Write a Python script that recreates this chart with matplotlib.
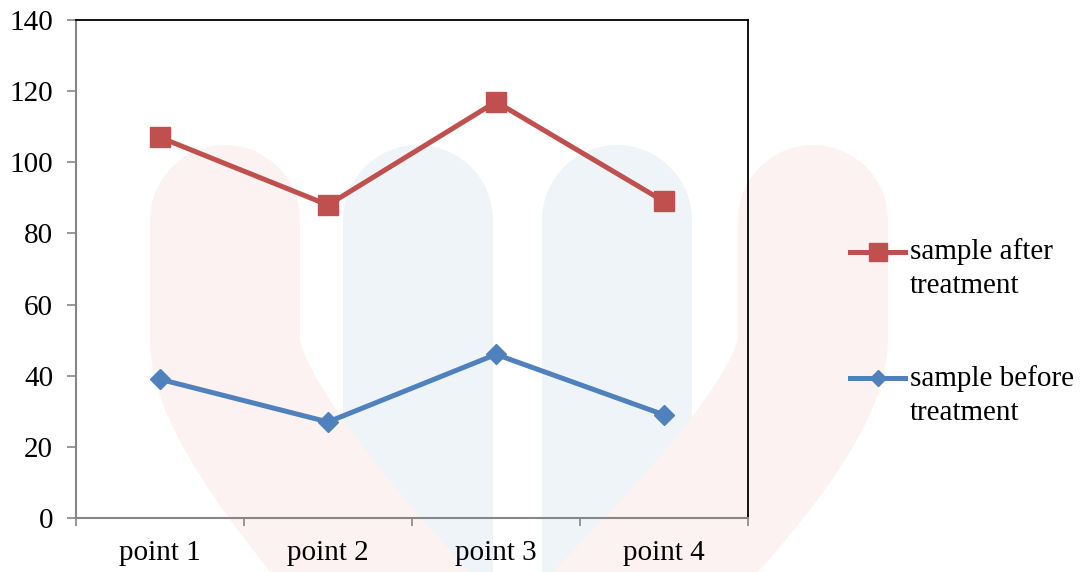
import numpy as np
import matplotlib
matplotlib.use('Agg')
import matplotlib.pyplot as plt
from matplotlib.path import Path
from matplotlib.patches import PathPatch
from matplotlib.legend_handler import HandlerLine2D

# data
categories = ['point 1', 'point 2', 'point 3', 'point 4']
after_treatment = [107, 88, 117, 89]
before_treatment = [39, 27, 46, 29]
series_names = ['sample after\ntreatment', 'sample before\ntreatment']
y_ticks = [0, 20, 40, 60, 80, 100, 120, 140]

RED = '#C0504D'
BLUE = '#4F81BD'
GREY = '#868686'

W, H, DPI = 1084, 572, 100
plt.rcParams['font.family'] = ['Liberation Serif', 'DejaVu Serif']
plt.rcParams['font.size'] = 21

fig = plt.figure(figsize=(W / DPI, H / DPI), dpi=DPI)


def px(x, y):
    # pixel position (from top-left) -> figure fraction
    return x / W, 1 - y / H


# faint logo in the background
def band(points, color):
    verts = [px(*p) for p in points]
    if len(verts) == 4:
        codes = [Path.MOVETO, Path.LINETO, Path.CURVE3, Path.CURVE3]
    else:
        codes = [Path.MOVETO] + [Path.LINETO] * (len(verts) - 1)
    patch = PathPatch(Path(verts, codes), transform=fig.transFigure,
                      facecolor='none', edgecolor=color, lw=108,
                      capstyle='round', joinstyle='round', zorder=0)
    fig.add_artist(patch)


band([(418, 220), (418, 640)], '#EFF4F8')
band([(617, 220), (617, 640)], '#EFF4F8')
band([(225, 220), (225, 340), (225, 420), (430, 640)], '#FDF2F2')
band([(813, 220), (813, 340), (813, 420), (590, 640)], '#FDF2F2')


class FirstLineHandler(HandlerLine2D):
    # keep the legend line level with the first line of a two-line label
    def __init__(self, shift, **kw):
        super().__init__(**kw)
        self.shift = shift

    def create_artists(self, legend, orig_handle, xdescent, ydescent,
                       width, height, fontsize, trans):
        return super().create_artists(legend, orig_handle, xdescent,
                                      ydescent - self.shift, width, height,
                                      fontsize, trans)


ax = fig.add_axes([76 / W, 1 - 518 / H, (748 - 76) / W, (518 - 20) / H])
ax.set_facecolor('none')

x = np.arange(len(categories))
l1, = ax.plot(x, after_treatment, color=RED, lw=3.6, marker='s', ms=14.5,
              label=series_names[0], solid_joinstyle='miter')
l2, = ax.plot(x, before_treatment, color=BLUE, lw=3.6, marker='D', ms=10,
              label=series_names[1], solid_joinstyle='miter')

ax.set_xlim(-0.5, len(categories) - 0.5)
ax.set_ylim(0, 140)
ax.set_yticks(y_ticks)
ax.set_xticks(x)
ax.set_xticklabels(categories)
ax.set_xticks(np.arange(len(categories) + 1) - 0.5, minor=True)

ax.tick_params(axis='y', direction='out', length=6.5, width=1.2, color=GREY, pad=10)
ax.tick_params(axis='x', which='major', length=0, pad=16)
ax.tick_params(axis='x', which='minor', direction='out', length=6, width=1.2, color=GREY)

for side in ['left', 'bottom']:
    ax.spines[side].set_color(GREY)
    ax.spines[side].set_linewidth(1.5)
for side in ['top', 'right']:
    ax.spines[side].set_color('black')
    ax.spines[side].set_linewidth(1.3)

leg = fig.legend(loc='upper left', bbox_to_anchor=px(850, 238), frameon=False,
                 handlelength=1.9, handletextpad=0.15, labelspacing=2.26,
                 borderpad=0, borderaxespad=0, fontsize=21, markerscale=0.85,
                 handler_map={l1: FirstLineHandler(24), l2: FirstLineHandler(24)})
for t in leg.get_texts():
    t.set_linespacing(1.4)

fig.savefig('out.png', dpi=DPI)
